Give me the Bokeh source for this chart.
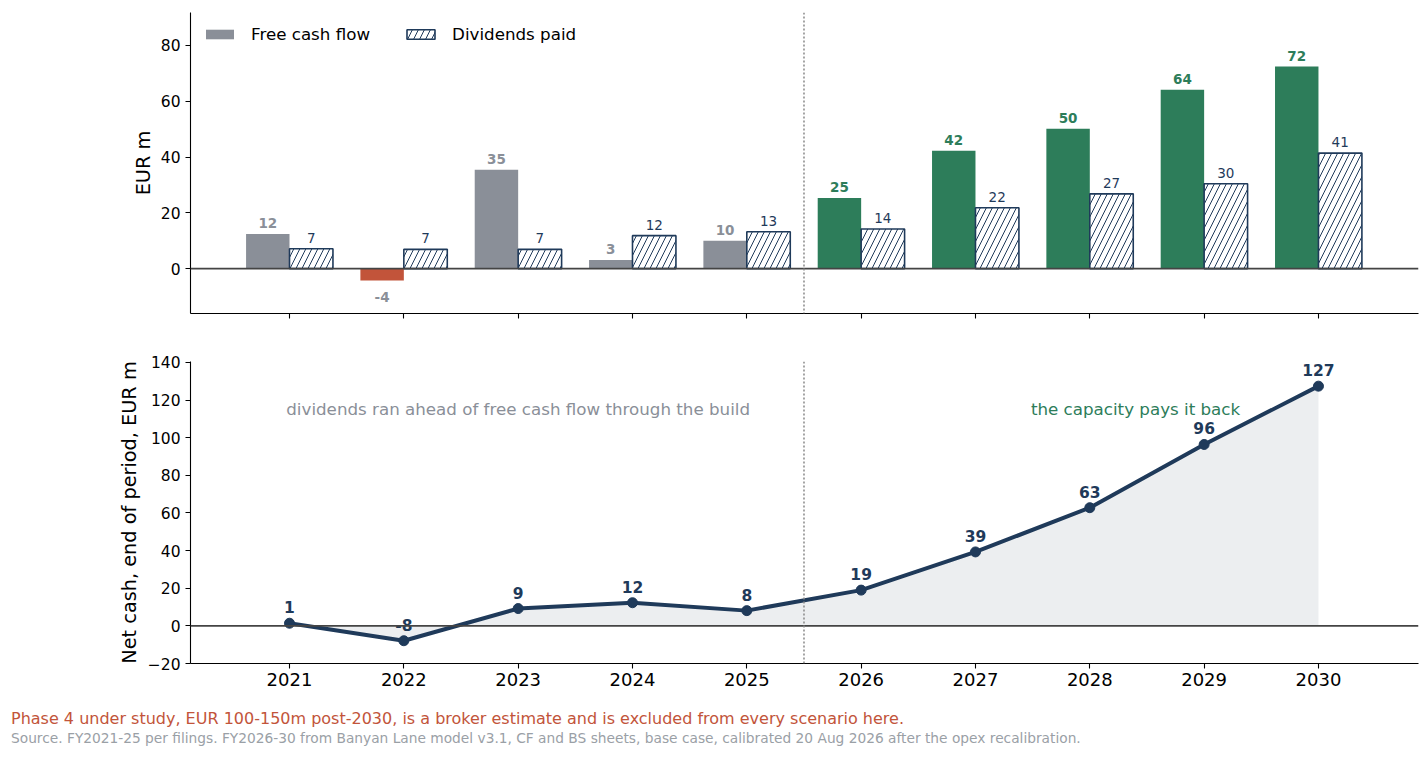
from bokeh.plotting import figure
from bokeh.models import (ColumnDataSource, Span, FixedTicker, Legend, LegendItem,
                          Label, Range1d, Div)
from bokeh.layouts import column
from bokeh.transform import dodge
from bokeh.core.properties import value
from bokeh.embed import file_html
from bokeh.resources import INLINE

# ---------------- data ----------------
years = [2021, 2022, 2023, 2024, 2025, 2026, 2027, 2028, 2029, 2030]
free_cash_flow = [12.4, -4.3, 35.4, 3.1, 10.0, 25.3, 42.2, 50.1, 64.1, 72.4]
dividends_paid = [7.1, 6.9, 6.9, 11.8, 13.2, 14.2, 21.8, 26.8, 30.4, 41.4]
net_cash = [1.4, -7.9, 9.2, 12.3, 8.1, 19.0, 39.3, 62.8, 96.4, 127.4]
last_actual_year = 2025
top_y_ticks = [0, 20, 40, 60, 80]
bottom_y_ticks = [-20, 0, 20, 40, 60, 80, 100, 120, 140]
legend_labels = ["Free cash flow", "Dividends paid"]
note_history = "dividends ran ahead of free cash flow through the build"
note_forecast = "the capacity pays it back"
footer_note = ("Phase 4 under study, EUR 100-150m post-2030, is a broker estimate "
               "and is excluded from every scenario here.")
footer_source = ("Source. FY2021-25 per filings. FY2026-30 from Banyan Lane model v3.1, "
                 "CF and BS sheets, base case, calibrated 20 Aug 2026 after the opex recalibration.")

# ---------------- style ----------------
FONT = "DejaVu Sans"
GREY = "#8a8f98"
RED = "#c2543a"
GREEN = "#2d7d5a"
NAVY = "#1f3a5a"
FILL = "#eceef0"
ZERO = "#444444"
DOT = "#888888"
SRC_GREY = "#9aa0a6"
BAR_W = 0.38
W = 1420

fcf_colors = [(GREEN if y > last_actual_year else (RED if v < 0 else GREY))
              for y, v in zip(years, free_cash_flow)]
fcf_label_colors = [(GREEN if y > last_actual_year else GREY) for y in years]
fcf_offsets = [(-11 if v >= 0 else 16) for v in free_cash_flow]

src = ColumnDataSource(dict(
    year=years,
    fcf=free_cash_flow,
    div=dividends_paid,
    fcf_color=fcf_colors,
    fcf_label=[f"{round(v):d}" for v in free_cash_flow],
    fcf_label_color=fcf_label_colors,
    fcf_off=fcf_offsets,
    div_label=[f"{round(v):d}" for v in dividends_paid],
))
src2 = ColumnDataSource(dict(
    year=years,
    net=net_cash,
    net_label=[f"{round(v):d}" for v in net_cash],
))

x_range = Range1d(2020.134, 2030.875)


def style_axes(p, xlabels=True):
    p.xgrid.grid_line_color = None
    p.ygrid.grid_line_color = None
    p.outline_line_color = None
    p.background_fill_color = "white"
    p.border_fill_color = "white"
    for ax in (p.xaxis[0], p.yaxis[0]):
        ax.axis_line_color = "black"
        ax.axis_line_width = 1.1
        ax.major_tick_line_color = "black"
        ax.major_tick_line_width = 1.1
        ax.major_tick_out = 5
        ax.major_tick_in = 0
        ax.minor_tick_out = 0
        ax.minor_tick_in = 0
        ax.major_label_text_font = FONT
        ax.major_label_text_color = "black"
        ax.axis_label_text_font = FONT
        ax.axis_label_text_font_style = "normal"
        ax.axis_label_text_color = "black"
        ax.axis_label_text_font_size = "19.3px"
    p.yaxis.major_label_text_font_size = "15.5px"
    p.yaxis.major_label_standoff = 5
    p.xaxis.ticker = FixedTicker(ticks=years)
    if xlabels:
        p.xaxis.major_label_text_font_size = "18px"
        p.xaxis.major_label_standoff = 4
    else:
        p.xaxis.major_label_text_font_size = "0px"
        p.xaxis.major_label_text_alpha = 0


# ---------------- top: bars ----------------
p1 = figure(width=W, height=335, x_range=x_range, y_range=(-16.1, 91.8),
            output_backend="svg", toolbar_location=None,
            min_border_left=190, min_border_right=2, min_border_top=12, min_border_bottom=22)
style_axes(p1, xlabels=False)
p1.yaxis.ticker = FixedTicker(ticks=top_y_ticks)
p1.yaxis.axis_label = "EUR m"
p1.yaxis.axis_label_standoff = 3

r_fcf = p1.vbar(x=dodge("year", -BAR_W / 2), top="fcf", bottom=0, width=BAR_W,
                fill_color="fcf_color", line_color=None, source=src)
r_div = p1.vbar(x=dodge("year", BAR_W / 2), top="div", bottom=0, width=BAR_W,
                fill_color="white", line_color=NAVY, line_width=1.6,
                hatch_pattern="/", hatch_color=NAVY, hatch_scale=12, hatch_weight=1,
                source=src)
p1.text(x=dodge("year", -BAR_W / 2), y="fcf", text="fcf_label", text_color="fcf_label_color",
        text_font=value(FONT), text_font_size="13.5px", text_font_style="bold",
        text_align="center", text_baseline="middle", y_offset="fcf_off", source=src)
p1.text(x=dodge("year", BAR_W / 2), y="div", text="div_label", text_color=NAVY,
        text_font=value(FONT), text_font_size="13.5px",
        text_align="center", text_baseline="middle", y_offset=-11, source=src)

p1.add_layout(Span(location=0, dimension="width", line_color=ZERO, line_width=1.6))
p1.add_layout(Span(location=last_actual_year + 0.5, dimension="height", line_color=DOT,
                   line_width=1.5, line_dash="2 2"))

legend = Legend(items=[LegendItem(label=legend_labels[0], renderers=[r_fcf], index=0),
                       LegendItem(label=legend_labels[1], renderers=[r_div], index=0)],
                location="top_left", orientation="horizontal",
                border_line_color=None, background_fill_alpha=0,
                label_text_font=FONT, label_text_font_size="16.7px", label_text_color="black",
                glyph_width=35, glyph_height=12, label_standoff=14, spacing=33,
                margin=12, padding=0)
p1.add_layout(legend)

# ---------------- bottom: net cash ----------------
p2 = figure(width=W, height=365, x_range=x_range, y_range=(-20, 140.5),
            output_backend="svg", toolbar_location=None,
            min_border_left=190, min_border_right=2, min_border_top=26, min_border_bottom=37)
style_axes(p2, xlabels=True)
p2.yaxis.ticker = FixedTicker(ticks=bottom_y_ticks)
p2.yaxis.major_label_overrides = {-20: "\u221220"}
p2.yaxis.axis_label = "Net cash, end of period, EUR m"
p2.yaxis.axis_label_standoff = 4

p2.varea(x="year", y1=0, y2="net", fill_color=FILL, source=src2)
p2.add_layout(Span(location=0, dimension="width", line_color=ZERO, line_width=1.6))
p2.add_layout(Span(location=last_actual_year + 0.5, dimension="height", line_color=DOT,
                   line_width=1.5, line_dash="2 2"))
p2.line(x="year", y="net", line_color=NAVY, line_width=4, source=src2)
p2.scatter(x="year", y="net", size=10, fill_color=NAVY, line_color=NAVY, source=src2)
p2.text(x="year", y="net", text="net_label", text_color=NAVY, text_font=value(FONT),
        text_font_size="15.5px", text_font_style="bold", text_align="center",
        text_baseline="middle", y_offset=-16, source=src2)

p2.add_layout(Label(x=2023, y=115.5, text=note_history, text_color=GREY, text_font=FONT,
                    text_font_size="16.7px", text_align="center", text_baseline="middle"))
p2.add_layout(Label(x=2028.4, y=115.5, text=note_forecast, text_color=GREEN, text_font=FONT,
                    text_font_size="16.7px", text_align="center", text_baseline="middle"))

# ---------------- footer ----------------
footer_html = (
    f'<div style="padding:8px 0 0 11px;font-family:\'DejaVu Sans\';white-space:nowrap;">'
    f'<div style="font-size:16px;line-height:21px;color:{RED};">{footer_note}</div>'
    f'<div style="font-size:13.75px;line-height:19px;color:{SRC_GREY};">{footer_source}</div>'
    f'</div>'
)
footer = Div(text=footer_html, width=W, height=55, margin=(0, 0, 0, 0))

layout = column(p1, p2, footer, spacing=0)
open("out.html", "w").write(file_html(layout, INLINE))
